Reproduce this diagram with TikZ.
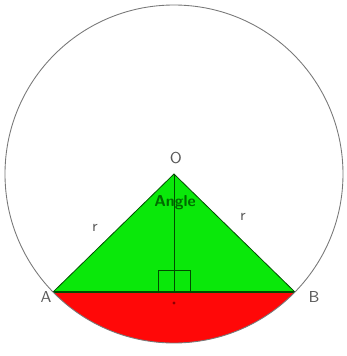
\documentclass[tikz,border=0pt]{standalone}
\usetikzlibrary{calc, positioning}
\definecolor{segred}{RGB}{255,8,8}
\definecolor{trigreen}{RGB}{10,232,10}
\definecolor{angtext}{RGB}{0,105,0}
\definecolor{lblgray}{RGB}{90,90,90}
\definecolor{rimgray}{RGB}{120,120,120}

\begin{document}
\begin{tikzpicture}[
  x=0.02cm, y=0.02cm,
  font=\sffamily\small,
  rim/.style={draw=rimgray, line width=0.5pt},
  edge/.style={draw=black!70!green, line width=0.45pt},
  lbl/.style={text=lblgray, inner sep=1pt},
]
\useasboundingbox (-174,-182) rectangle (172,174);
\coordinate (O) at (0,0);
\coordinate (A) at (224.3:169);
\coordinate (B) at (315.7:169);
\coordinate (M) at ($(A)!0.5!(B)$);

% segment below the chord
\fill[segred] (A) arc[start angle=224.3, end angle=315.7, radius=169] -- cycle;
% triangle
\fill[trigreen] (O) -- (A) -- (B) -- cycle;
\draw[edge] (A) -- (O) -- (B);
\draw[edge, line width=0.7pt] (A) -- (B);
\draw[edge] (O) -- (M);
\draw[edge] ($(M)+(-16,0)$) rectangle ($(M)+(16,22)$);
\fill[red!55!black] ($(M)+(0,-11)$) circle[radius=1.6];
\draw[rim] (O) circle[radius=169];

\node[lbl] (lo) at (2,16) {O};
\node[lbl, text=angtext, font=\sffamily\small\bfseries] (ang) at (1,-29) {Angle};
\node[lbl] (r1) at (-79,-54) {r};
\node[lbl] (r2) at (69,-43) {r};
\node[lbl] (la) at (-128,-123) {A};
\node[lbl] (lb) at (140,-123) {B};
\end{tikzpicture}
\end{document}
